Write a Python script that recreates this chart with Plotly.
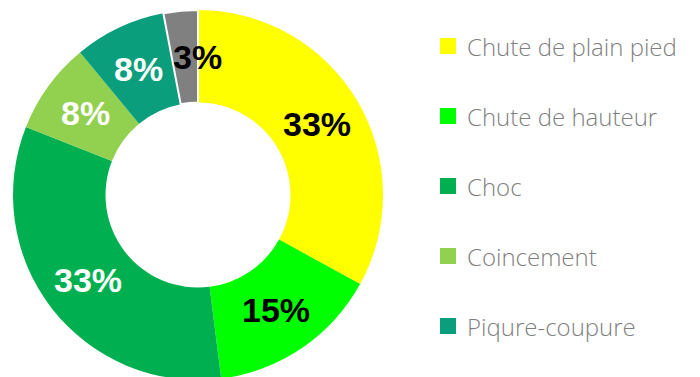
import math
import plotly.graph_objects as go

# Accident categories and their share (%)
labels = ["Chute de plain pied", "Chute de hauteur", "Choc", "Coincement", "Piqure-coupure", "Autre"]
values = [33, 15, 33, 8, 8, 3]
colors = ["#FFFF00", "#00FF00", "#00B050", "#92D050", "#0A9E7C", "#808080"]
label_colors = ["#000000", "#000000", "#FFFFFF", "#FFFFFF", "#FFFFFF", "#000000"]
label_xshift = [0, 0, 0, 0, 0, 13]

W, H = 700, 390
VISIBLE_H = 377
cx, cy, R = 198, 195, 185
hole = 0.5
r_mid = R * (1 + hole) / 2

fig = go.Figure(
    go.Pie(
        labels=labels,
        values=values,
        sort=False,
        direction="clockwise",
        rotation=0,
        hole=hole,
        marker=dict(colors=colors, line=dict(color="#FFFFFF", width=[0, 0, 0, 0, 0, 2])),
        textinfo="none",
        hoverinfo="label+percent",
        showlegend=False,
        domain=dict(x=[(cx - R) / W, (cx + R) / W], y=[0, 1]),
    )
)

annotations = []
shapes = []
total = sum(values)
cum = 0
for i, v in enumerate(values):
    f = (cum + v / 2) / total
    cum += v
    th = 2 * math.pi * f
    px = cx + r_mid * math.sin(th)
    py = cy - r_mid * math.cos(th)
    annotations.append(dict(
        x=px / W, y=1 - py / H, xref="paper", yref="paper",
        text=f"{round(v / total * 100)}%", showarrow=False,
        xanchor="center", yanchor="middle", xshift=label_xshift[i],
        font=dict(family="Liberation Sans, Arial", size=34, color=label_colors[i], weight="bold"),
    ))

# Custom legend on the right (entries that fit in the view)
for i, (lab, col) in enumerate(zip(labels, colors)):
    yc = 46 + 70 * i
    if yc + 14 > VISIBLE_H:
        break
    shapes.append(dict(
        type="rect", xref="paper", yref="paper",
        x0=440 / W, x1=456 / W, y0=1 - (yc + 8) / H, y1=1 - (yc - 8) / H,
        fillcolor=col, line=dict(width=0),
    ))
    annotations.append(dict(
        x=465 / W, y=1 - yc / H, xref="paper", yref="paper",
        text=lab, showarrow=False, xanchor="left", yanchor="middle",
        font=dict(family="Open Sans", size=24, color="#7F7F7F", weight=300),
    ))

fig.update_layout(
    width=W, height=H, autosize=False,
    margin=dict(l=0, r=0, t=0, b=0),
    paper_bgcolor="#FFFFFF", plot_bgcolor="#FFFFFF",
    annotations=annotations, shapes=shapes,
)

fig.write_html("out.html")
